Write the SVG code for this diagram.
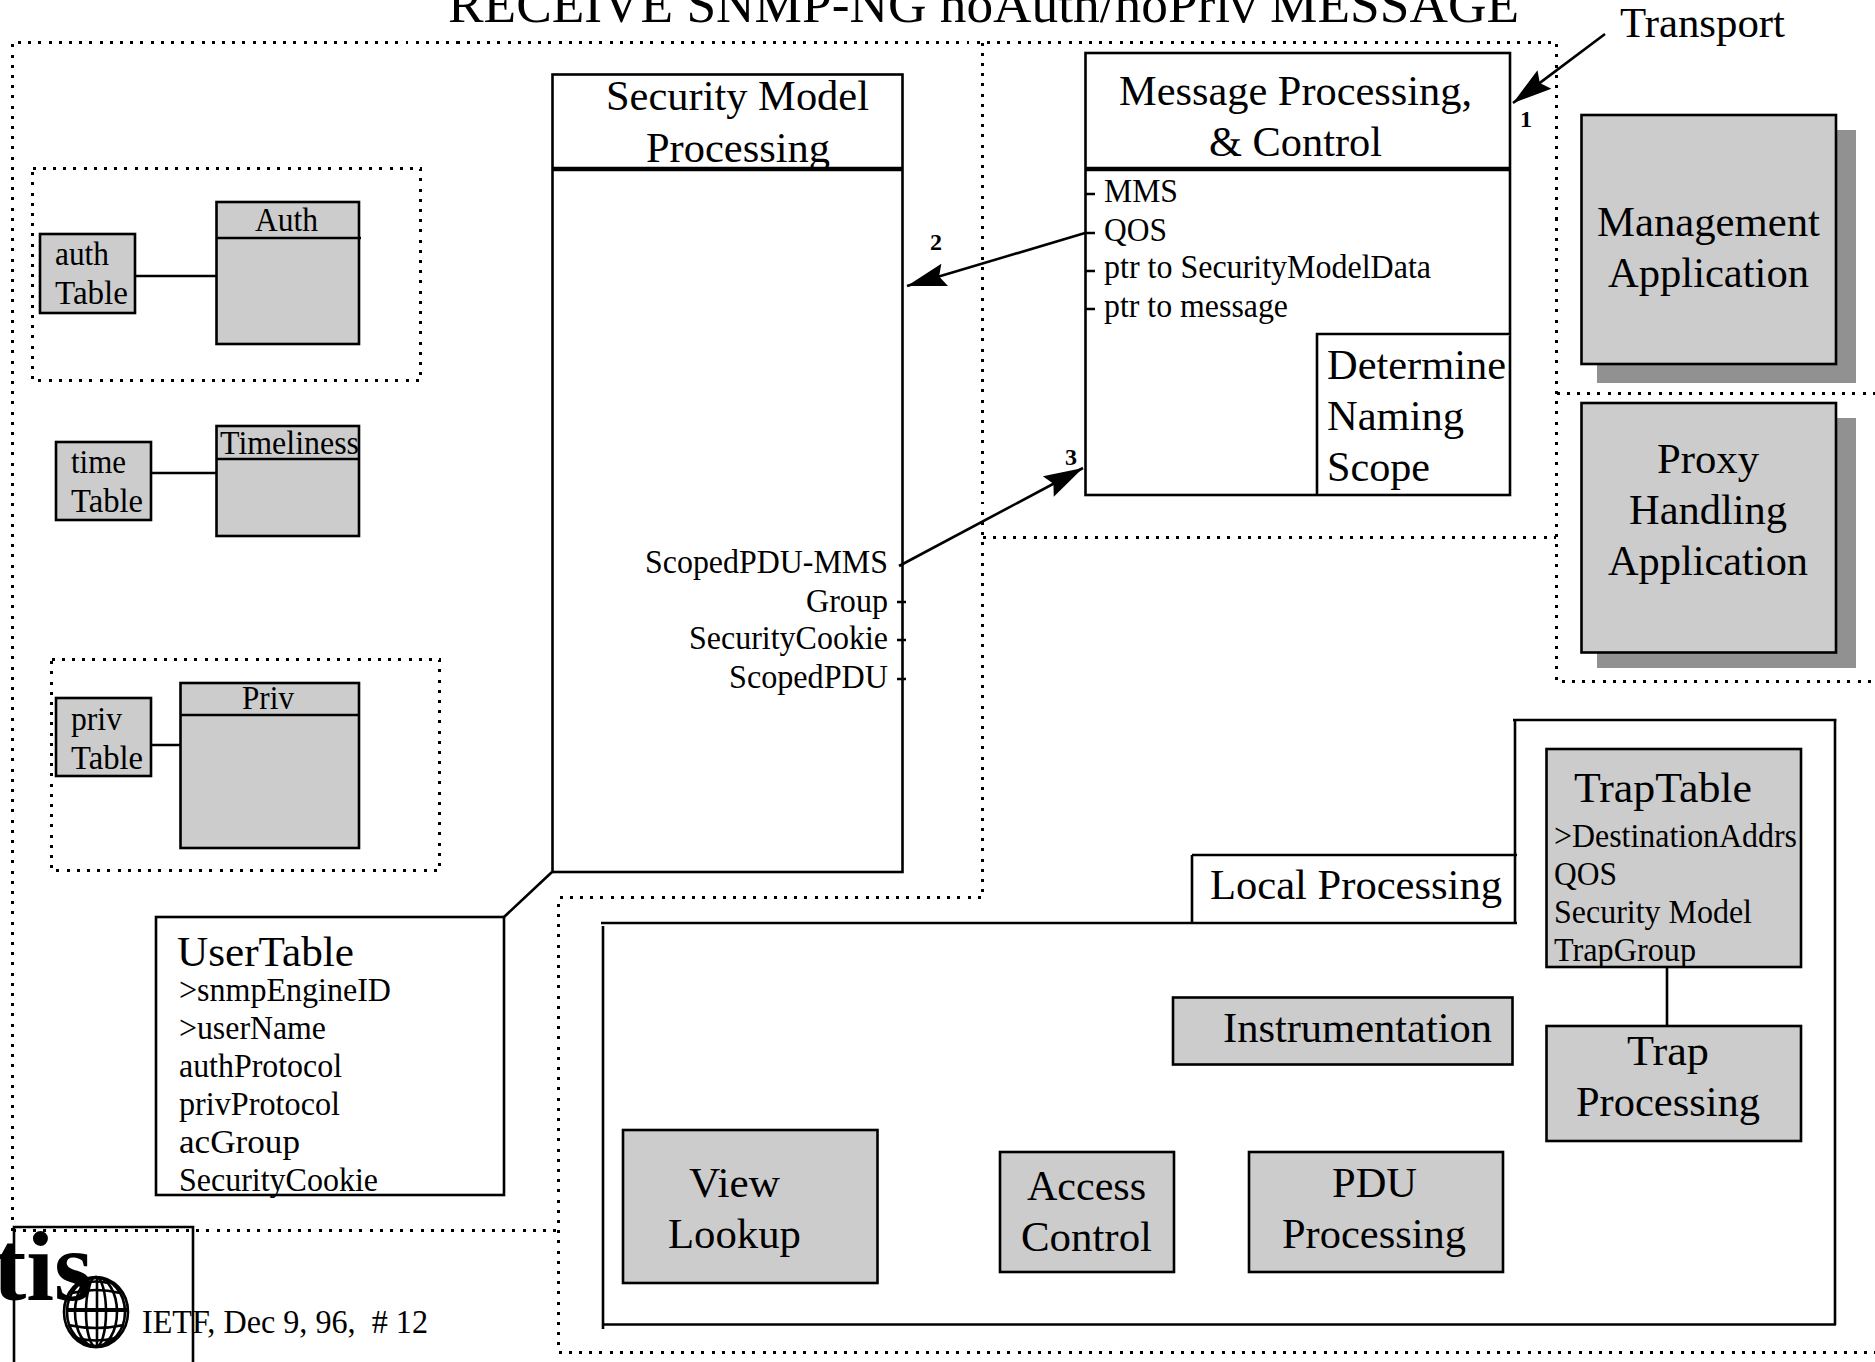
<svg xmlns="http://www.w3.org/2000/svg" width="1875" height="1362" viewBox="0 0 1875 1362">
<defs>
<style>
text{font-family:"Liberation Serif","Times New Roman",serif;fill:#000;white-space:pre}
.l{font-size:43px}.m{font-size:34px}.t{font-size:52px}.n{font-size:24px;font-weight:bold}
.g{fill:#ccc;stroke:#000;stroke-width:2.6}
.w{fill:#fff;stroke:#000;stroke-width:2.6}
.s{fill:#919191;stroke:none}
.d{fill:none;stroke:#000;stroke-width:3;stroke-dasharray:3 7.2;shape-rendering:crispEdges}
.c{fill:none;stroke:#000;stroke-width:2.6}
.h{fill:none;stroke:#000;stroke-width:4.5}
.a{fill:none;stroke:#000;stroke-width:2.6;marker-end:url(#arrow)}
</style>
<marker id="arrow" markerUnits="userSpaceOnUse" markerWidth="50" markerHeight="32" refX="44" refY="16" orient="auto" viewBox="0 0 50 32"><path d="M44,16 L4.7,4.4 L10.5,16 L4.7,27.6 Z" fill="#000"/></marker>
</defs>
<rect width="1875" height="1362" fill="#fff"/>
<text class="t" x="448" y="22" textLength="1071" lengthAdjust="spacingAndGlyphs">RECEIVE SNMP-NG noAuth/noPriv MESSAGE</text>
<g id="boundaries">
<path class="d" d="M12.5,1230.5 V42.5 H1556.5 V681.5 H1875"/>
<path class="d" d="M1556.5,393.5 H1875"/>
<path class="d" d="M982.5,42.5 V897.5 H558.5 V1352.5 H1875"/>
<path class="d" d="M982.5,537.5 H1556"/>
<path class="d" d="M12.5,1230.5 H558"/>
<path class="d" d="M32.5,168.5 H420.5 V380.5 H32.5 Z"/>
<path class="d" d="M51.5,659.5 H439.5 V870.5 H51.5 Z"/>
</g>
<g id="security-model">
<rect class="w" x="552.5" y="74.5" width="350" height="797.5"/>
<line class="h" x1="552" y1="169" x2="903" y2="169"/>
<text class="l" x="606" y="110" textLength="263" lengthAdjust="spacingAndGlyphs">Security Model</text>
<text class="l" x="646" y="162" textLength="184" lengthAdjust="spacingAndGlyphs">Processing</text>
<text class="m" x="645" y="573" textLength="243" lengthAdjust="spacingAndGlyphs">ScopedPDU-MMS</text>
<text class="m" x="806" y="612" textLength="82" lengthAdjust="spacingAndGlyphs">Group</text>
<text class="m" x="689" y="649" textLength="199" lengthAdjust="spacingAndGlyphs">SecurityCookie</text>
<text class="m" x="729" y="688" textLength="159" lengthAdjust="spacingAndGlyphs">ScopedPDU</text>
<path class="c" d="M897,602 H906 M897,640 H906 M897,679 H906"/>
</g>
<g id="message-processing">
<rect class="w" x="1085.5" y="53" width="424.5" height="442"/>
<line class="h" x1="1085" y1="169" x2="1511" y2="169"/>
<text class="l" x="1119" y="105" textLength="353" lengthAdjust="spacingAndGlyphs">Message Processing,</text>
<text class="l" x="1209" y="156" textLength="173" lengthAdjust="spacingAndGlyphs">&amp; Control</text>
<text class="m" x="1104" y="202" textLength="74" lengthAdjust="spacingAndGlyphs">MMS</text>
<text class="m" x="1104" y="241" textLength="63" lengthAdjust="spacingAndGlyphs">QOS</text>
<text class="m" x="1104" y="278" textLength="327" lengthAdjust="spacingAndGlyphs">ptr to SecurityModelData</text>
<text class="m" x="1104" y="317" textLength="184" lengthAdjust="spacingAndGlyphs">ptr to message</text>
<path class="c" d="M1085,194 H1095 M1085,233 H1095 M1085,271 H1095 M1085,309 H1095"/>
<path class="w" d="M1317,495 V334 H1511"/>
<text class="l" x="1327" y="379" textLength="179" lengthAdjust="spacingAndGlyphs">Determine</text>
<text class="l" x="1327" y="430" textLength="137" lengthAdjust="spacingAndGlyphs">Naming</text>
<text class="l" x="1327" y="481" textLength="103" lengthAdjust="spacingAndGlyphs">Scope</text>
</g>
<g id="management-application">
<rect class="s" x="1597" y="130" width="259" height="253"/>
<rect class="g" x="1581.5" y="115" width="254.5" height="249"/>
<text class="l" x="1597" y="236" textLength="223" lengthAdjust="spacingAndGlyphs">Management</text>
<text class="l" x="1608" y="287" textLength="201" lengthAdjust="spacingAndGlyphs">Application</text>
</g>
<g id="proxy-application">
<rect class="s" x="1597" y="418" width="259" height="250"/>
<rect class="g" x="1581.5" y="403" width="254.5" height="249.5"/>
<text class="l" x="1657" y="473" textLength="102" lengthAdjust="spacingAndGlyphs">Proxy</text>
<text class="l" x="1629" y="524" textLength="158" lengthAdjust="spacingAndGlyphs">Handling</text>
<text class="l" x="1608" y="575" textLength="200" lengthAdjust="spacingAndGlyphs">Application</text>
</g>
<g id="auth-table">
<rect class="g" x="40" y="234" width="95" height="79"/>
<text class="m" x="55" y="265" textLength="54" lengthAdjust="spacingAndGlyphs">auth</text>
<text class="m" x="55" y="304" textLength="73" lengthAdjust="spacingAndGlyphs">Table</text>
</g>
<g id="auth">
<rect class="g" x="216.5" y="202" width="142.5" height="142"/>
<line class="c" x1="216" y1="238" x2="361" y2="238"/>
<text class="m" x="255" y="231" textLength="63" lengthAdjust="spacingAndGlyphs">Auth</text>
</g>
<g id="time-table">
<rect class="g" x="56" y="442" width="95" height="78"/>
<text class="m" x="71" y="473" textLength="55" lengthAdjust="spacingAndGlyphs">time</text>
<text class="m" x="71" y="512" textLength="72" lengthAdjust="spacingAndGlyphs">Table</text>
</g>
<g id="timeliness">
<rect class="g" x="216.5" y="426" width="142.5" height="110"/>
<line class="c" x1="216" y1="459" x2="360" y2="459"/>
<text class="m" x="220" y="454" textLength="139" lengthAdjust="spacingAndGlyphs">Timeliness</text>
</g>
<g id="priv-table">
<rect class="g" x="56" y="698" width="95" height="78"/>
<text class="m" x="71" y="730" textLength="51" lengthAdjust="spacingAndGlyphs">priv</text>
<text class="m" x="71" y="769" textLength="72" lengthAdjust="spacingAndGlyphs">Table</text>
</g>
<g id="priv">
<rect class="g" x="180.5" y="683" width="178.5" height="165"/>
<line class="c" x1="180" y1="715" x2="359" y2="715"/>
<text class="m" x="242" y="709" textLength="52" lengthAdjust="spacingAndGlyphs">Priv</text>
</g>
<g id="user-table">
<rect class="w" x="156" y="917" width="348" height="278"/>
<text class="l" x="177" y="966" textLength="177" lengthAdjust="spacingAndGlyphs">UserTable</text>
<text class="m" x="179" y="1001" textLength="212" lengthAdjust="spacingAndGlyphs">&gt;snmpEngineID</text>
<text class="m" x="179" y="1039" textLength="147" lengthAdjust="spacingAndGlyphs">&gt;userName</text>
<text class="m" x="179" y="1077" textLength="163" lengthAdjust="spacingAndGlyphs">authProtocol</text>
<text class="m" x="179" y="1115" textLength="161" lengthAdjust="spacingAndGlyphs">privProtocol</text>
<text class="m" x="179" y="1153" textLength="121" lengthAdjust="spacingAndGlyphs">acGroup</text>
<text class="m" x="179" y="1191" textLength="199" lengthAdjust="spacingAndGlyphs">SecurityCookie</text>
</g>
<g id="local-processing">
<path class="c" d="M601,923 H1517 M603,926 V1329 M603,1324.5 H1836 M1192,923 V855 M1192,855 H1517 M1515,923 V720 M1513,720 H1836.5 M1835,720 V1325"/>
<text class="l" x="1210" y="899" textLength="292" lengthAdjust="spacingAndGlyphs">Local Processing</text>
</g>
<g id="trap-table">
<rect class="g" x="1546.5" y="749" width="254.5" height="218"/>
<text class="l" x="1574" y="802" textLength="178" lengthAdjust="spacingAndGlyphs">TrapTable</text>
<text class="m" x="1554" y="847" textLength="243" lengthAdjust="spacingAndGlyphs">&gt;DestinationAddrs</text>
<text class="m" x="1554" y="885" textLength="63" lengthAdjust="spacingAndGlyphs">QOS</text>
<text class="m" x="1554" y="923" textLength="198" lengthAdjust="spacingAndGlyphs">Security Model</text>
<text class="m" x="1554" y="961" textLength="142" lengthAdjust="spacingAndGlyphs">TrapGroup</text>
</g>
<g id="trap-processing">
<rect class="g" x="1546.5" y="1026" width="254.5" height="115"/>
<text class="l" x="1627" y="1065" textLength="82" lengthAdjust="spacingAndGlyphs">Trap</text>
<text class="l" x="1576" y="1116" textLength="184" lengthAdjust="spacingAndGlyphs">Processing</text>
</g>
<g id="instrumentation">
<rect class="g" x="1173" y="997.5" width="339.5" height="67"/>
<text class="l" x="1223" y="1042" textLength="269" lengthAdjust="spacingAndGlyphs">Instrumentation</text>
</g>
<g id="view-lookup">
<rect class="g" x="623" y="1130" width="254.5" height="153"/>
<text class="l" x="689" y="1197" textLength="91" lengthAdjust="spacingAndGlyphs">View</text>
<text class="l" x="668" y="1248" textLength="133" lengthAdjust="spacingAndGlyphs">Lookup</text>
</g>
<g id="access-control">
<rect class="g" x="1000" y="1152" width="174" height="120"/>
<text class="l" x="1027" y="1200" textLength="119" lengthAdjust="spacingAndGlyphs">Access</text>
<text class="l" x="1021" y="1251" textLength="131" lengthAdjust="spacingAndGlyphs">Control</text>
</g>
<g id="pdu-processing">
<rect class="g" x="1249" y="1152" width="254" height="120"/>
<text class="l" x="1332" y="1197" textLength="85" lengthAdjust="spacingAndGlyphs">PDU</text>
<text class="l" x="1282" y="1248" textLength="184" lengthAdjust="spacingAndGlyphs">Processing</text>
</g>
<g id="connectors">
<path class="c" d="M135,276 H216 M151,473 H216 M151,745 H180 M1667,967 V1026 M504,917 L552,872"/>
<path class="a" d="M1605,34 L1513,103"/>
<path class="a" d="M1085,233 L907,286"/>
<path class="a" d="M899,566 L1083,468"/>
</g>
<text class="l" x="1620" y="37" textLength="165" lengthAdjust="spacingAndGlyphs">Transport</text>
<text class="n" x="1520" y="127">1</text>
<text class="n" x="930" y="250">2</text>
<text class="n" x="1065" y="465">3</text>
<g id="logo">
<path class="c" d="M14,1362 V1227 H193 V1362"/>
<text x="-7" y="1300" style="font-size:100px;font-weight:bold">tis</text>
<g style="fill:none;stroke:#000;stroke-width:2.6">
<ellipse cx="96" cy="1312" rx="32" ry="35"/>
<ellipse cx="96" cy="1312" rx="29" ry="34"/>
<ellipse cx="96" cy="1312" rx="21" ry="35"/>
<ellipse cx="96" cy="1312" rx="10" ry="35"/>
<line x1="97" y1="1277" x2="97" y2="1347"/>
<path d="M66,1310 H127" style="stroke-width:4"/>
<path d="M72,1293 Q96,1287 120,1293 M68,1325 Q96,1331 124,1325 M76,1338 Q96,1343 116,1338 M84,1283 Q96,1280 108,1283"/>
</g>
<text class="m" x="142" y="1333" textLength="286" lengthAdjust="spacingAndGlyphs">IETF, Dec 9, 96,  # 12</text>
</g>
</svg>
